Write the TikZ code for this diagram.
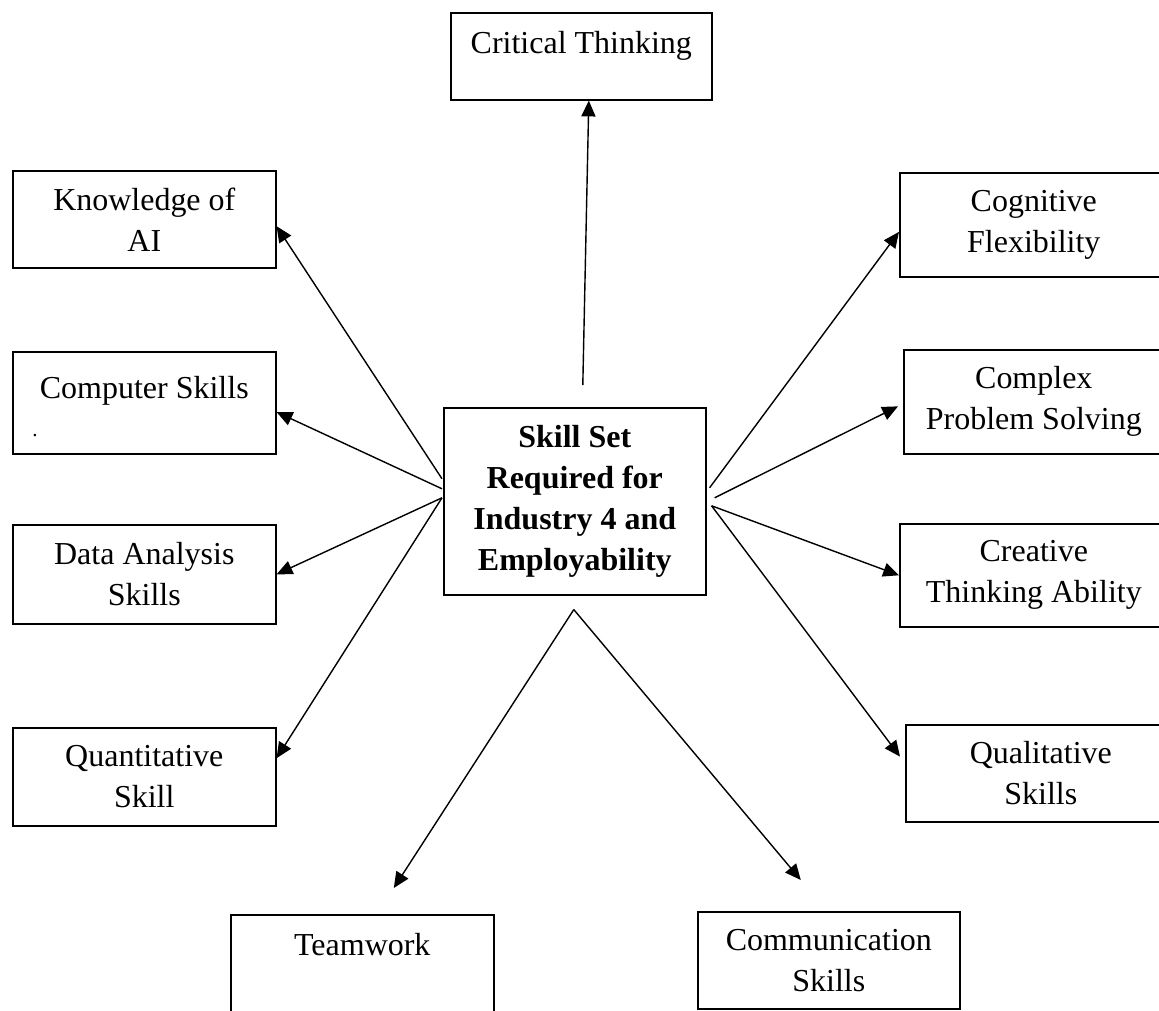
\documentclass[tikz,border=0pt]{standalone}
\usepackage{fontspec}
\setmainfont{Liberation Serif}
\usepackage{tikz}
\usetikzlibrary{arrows.meta}

\begin{document}
\begin{tikzpicture}[x=0.2mm, y=-0.2mm,
    skillbox/.style={draw, line width=0.9pt, anchor=north west, align=center, inner sep=0pt,
        font=\fontsize{18.2pt}{23.3pt}\selectfont},
    hubbox/.style={skillbox, font=\fontsize{18.2pt}{23.3pt}\selectfont\bfseries},
    arr/.style={line width=0.8pt, -{Triangle[length=9pt,width=8pt]}}]
    \useasboundingbox (0,0) rectangle (1159,1010);
    \clip (0,0) rectangle (1159,1010); % right column and bottom boxes run off the page

    % centre box
    \node[hubbox, minimum width=52.4mm, minimum height=37.4mm] (hub) at (443,407)
        {Skill Set\\Required for\\Industry 4 and\\Employability};

    % left column
    \node[skillbox, minimum width=52.6mm, minimum height=19.4mm] (know) at (12,170) {Knowledge of\\AI};
    \node[skillbox, minimum width=52.6mm, minimum height=20.4mm, text depth=6mm] (comp) at (12,351) {Computer Skills};
    \node[inner sep=0pt, font=\fontsize{12pt}{14pt}\selectfont] (compdot) at (35,436) {.};
    \node[skillbox, minimum width=52.6mm, minimum height=19.8mm] (data) at (12,524) {Data Analysis\\Skills};
    \node[skillbox, minimum width=52.6mm, minimum height=19.6mm] (quant) at (12,727) {Quantitative\\Skill};

    % right column
    \node[skillbox, minimum width=53.6mm, minimum height=20.8mm] (cogn) at (899,172) {Cognitive\\Flexibility};
    \node[skillbox, minimum width=52mm, minimum height=20.8mm] (cplx) at (903,349) {Complex\\Problem Solving};
    \node[skillbox, minimum width=53.6mm, minimum height=20.6mm] (crea) at (899,523) {Creative\\Thinking Ability};
    \node[skillbox, minimum width=54mm, minimum height=19.4mm] (qual) at (905,724) {Qualitative\\Skills};

    % top and bottom
    \node[skillbox, minimum width=52.2mm, minimum height=17.4mm, text depth=5.4mm] (crit) at (450,12) {Critical Thinking};
    \node[skillbox, minimum width=52.6mm, minimum height=22mm, text depth=10mm] (team) at (230,914) {Teamwork};
    \node[skillbox, minimum width=52.4mm, minimum height=19.4mm] (comm) at (697,911) {Communication\\Skills};

    % where the arrows leave the centre box
    \coordinate (hubN) at ([xshift=1.6mm,yshift=4.4mm]hub.north);
    \coordinate (hubS) at ([xshift=-0.2mm,yshift=-2.8mm]hub.south);
    \coordinate (hubW1) at ([xshift=-0.2mm,yshift=4.5mm]hub.west);
    \coordinate (hubW2) at ([xshift=-0.2mm,yshift=2.5mm]hub.west);
    \coordinate (hubW3) at ([xshift=-0.2mm,yshift=0.7mm]hub.west);
    \coordinate (hubE1) at ([xshift=0.6mm,yshift=2.7mm]hub.east);
    \coordinate (hubE2) at ([xshift=1.6mm,yshift=0.7mm]hub.east);
    \coordinate (hubE3) at ([xshift=1mm,yshift=-0.9mm]hub.east);

    \draw[arr] (hubN) -- ([xshift=1.5mm]crit.south);
    \draw[arr] (hubW1) -- (know.-3);
    \draw[arr] (hubW2) -- (comp.-4);
    \draw[arr] (hubW3) -- (data.east);
    \draw[arr] (hubW3) -- (quant.8);
    \draw[arr] (hubE1) -- (cogn.183);
    \draw[arr] (hubE2) -- ([xshift=-1mm]cplx.182);
    \draw[arr] (hubE3) -- (crea.west);
    \draw[arr] (hubE3) -- ([xshift=-1mm]qual.173);
    \draw[arr] (hubS) -- ([xshift=6.3mm,yshift=5.2mm]team.north);
    \draw[arr] (hubS) -- ([xshift=-5.6mm,yshift=6.2mm]comm.north);
\end{tikzpicture}
\end{document}
